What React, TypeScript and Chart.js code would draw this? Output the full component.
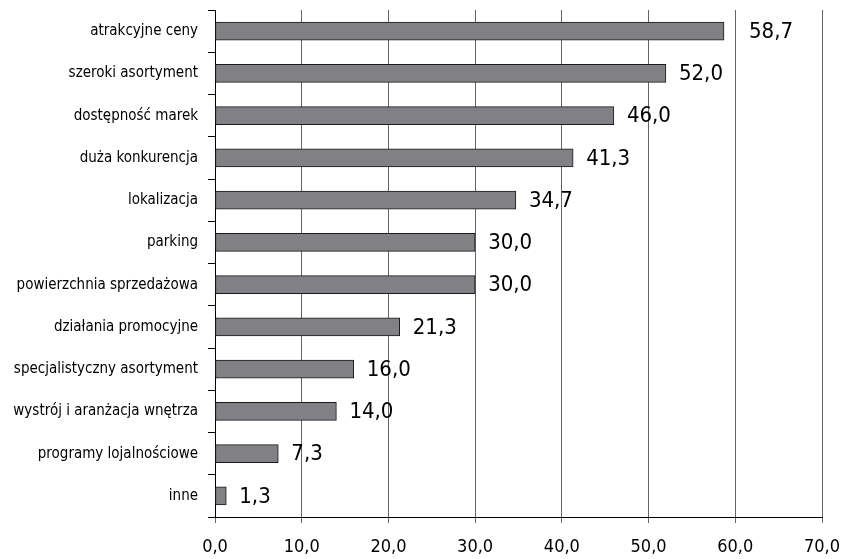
import React, { useEffect, useRef } from "react";
import { Chart, registerables } from "chart.js";

Chart.register(...registerables);

const categories = [
  "atrakcyjne ceny",
  "szeroki asortyment",
  "dostępność marek",
  "duża konkurencja",
  "lokalizacja",
  "parking",
  "powierzchnia sprzedażowa",
  "działania promocyjne",
  "specjalistyczny asortyment",
  "wystrój i aranżacja wnętrza",
  "programy lojalnościowe",
  "inne",
];
const values = [58.7, 52.0, 46.0, 41.3, 34.7, 30.0, 30.0, 21.3, 16.0, 14.0, 7.3, 1.3];
const xTicks = [0, 10, 20, 30, 40, 50, 60, 70];

const FONT = "'Liberation Sans Narrow', 'DejaVu Sans Condensed', 'Arial Narrow', sans-serif";
const fmt = (v: number) => v.toFixed(1).replace(".", ",");

const valueLabels = {
  id: "valueLabels",
  afterDatasetsDraw(chart: any) {
    const ctx = chart.ctx;
    const meta = chart.getDatasetMeta(0);
    ctx.save();
    ctx.font = `22px ${FONT}`;
    ctx.fillStyle = "#000";
    ctx.textAlign = "left";
    ctx.textBaseline = "middle";
    meta.data.forEach((bar: any, i: number) => {
      const off = i === 0 ? 25 : 13;
      ctx.fillText(fmt(values[i]), bar.x + off, bar.y + 1);
    });
    ctx.restore();
  },
};

export default function App() {
  const ref = useRef<HTMLCanvasElement>(null);
  useEffect(() => {
    const chart = new Chart(ref.current!, {
      type: "bar",
      data: {
        labels: categories,
        datasets: [
          {
            data: values,
            backgroundColor: "#808085",
            borderColor: "#1a1a1a",
            borderWidth: 1,
            borderSkipped: false,
            barThickness: 18,
          },
        ],
      },
      options: {
        indexAxis: "y",
        animation: false,
        responsive: false,
        layout: { padding: { top: 10, right: 21, left: 0, bottom: 0 } },
        plugins: { legend: { display: false }, tooltip: { enabled: false } },
        scales: {
          x: {
            min: 0,
            max: 70,
            afterBuildTicks: (s: any) => {
              s.ticks = xTicks.map((v) => ({ value: v }));
            },
            afterFit: (s: any) => {
              s.height = 42;
              s.paddingLeft = 0;
              s.paddingRight = 0;
            },
            grid: { color: "#666", lineWidth: 1, tickLength: 6, drawTicks: true },
            border: { color: "#000", width: 1 },
            ticks: {
              font: { family: FONT, size: 18 },
              color: "#000",
              padding: 14,
              callback: (v: any) => fmt(Number(v)),
            },
          },
          y: {
            afterFit: (s: any) => {
              s.width = 215;
              s.paddingTop = 0;
              s.paddingBottom = 0;
            },
            grid: { drawOnChartArea: false, color: "#000", tickLength: 7, offset: true },
            border: { color: "#000", width: 1 },
            ticks: {
              font: { family: FONT, size: 15 },
              color: "#000",
              padding: 10,
            },
          },
        },
      },
      plugins: [valueLabels],
    } as any);
    return () => chart.destroy();
  }, []);
  return (
    <div style={{ position: "fixed", left: 0, top: 0, width: 843, height: 559, background: "#fff" }}>
      <canvas ref={ref} width={843} height={559} />
    </div>
  );
}
